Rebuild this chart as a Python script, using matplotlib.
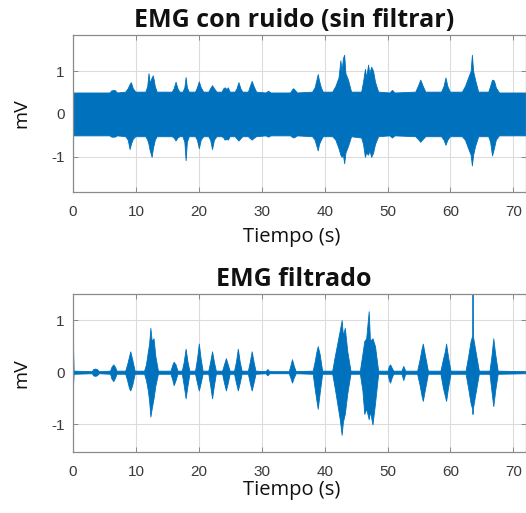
import numpy as np
import matplotlib
matplotlib.use('Agg')
import matplotlib.pyplot as plt

plt.rcParams['font.family'] = ['Liberation Sans', 'DejaVu Sans']
plt.rcParams['axes.unicode_minus'] = False

# Envolvente de la señal sin filtrar: tiempo (s), máximo y mínimo (mV)
t_ruido = [0, 5.8, 6.1, 6.6, 7.0,
           8.3, 8.7, 9.0, 9.2, 9.5, 9.9,
           11.5, 11.8, 12.0, 12.2, 12.5, 12.7, 13.0, 13.3,
           15.7, 16.0, 16.3, 16.6, 16.9,
           17.4, 17.7, 17.9, 18.1, 18.4,
           19.4, 19.7, 20.0, 20.3, 20.7,
           21.5, 21.8, 22.1, 22.4, 22.8,
           23.6, 23.9, 24.1, 24.4, 24.6, 24.9,
           25.7, 26.0, 26.3, 26.6, 26.9,
           27.8, 28.1, 28.4, 28.7, 29.1,
           30.6, 31.0, 31.4,
           34.5, 34.8, 35.0, 35.3, 35.6,
           38.0, 38.4, 38.7, 38.9, 39.1, 39.4, 39.7,
           41.2, 41.7, 42.2, 42.5, 42.7, 42.9, 43.1, 43.3, 43.7, 44.2,
           45.8, 46.1, 46.4, 46.6, 46.9, 47.1, 47.4, 47.7, 48.0, 48.5,
           50.3, 50.7, 51.1,
           54.4, 54.8, 55.2, 55.6, 56.0,
           58.5, 58.9, 59.2, 59.5, 59.9,
           61.8, 62.3, 62.8, 63.2, 63.4, 63.6, 63.9, 64.4,
           66.0, 66.3, 66.6, 66.9, 67.2, 67.7, 72]
sup_ruido = [0.5, 0.5, 0.55, 0.56, 0.5,
             0.52, 0.6, 0.7, 0.74, 0.6, 0.52,
             0.52, 0.65, 0.95, 0.72, 0.85, 0.9, 0.65, 0.52,
             0.52, 0.6, 0.75, 0.6, 0.52,
             0.52, 0.62, 0.86, 0.62, 0.52,
             0.52, 0.62, 0.76, 0.62, 0.52,
             0.52, 0.6, 0.67, 0.6, 0.52,
             0.52, 0.6, 0.62, 0.58, 0.62, 0.52,
             0.52, 0.6, 0.74, 0.6, 0.52,
             0.52, 0.65, 0.77, 0.65, 0.52,
             0.5, 0.54, 0.5,
             0.5, 0.57, 0.6, 0.55, 0.5,
             0.52, 0.62, 0.8, 0.93, 0.78, 0.62, 0.52,
             0.52, 0.65, 0.85, 1.25, 1.0, 1.3, 1.38, 0.95, 0.8, 0.52,
             0.52, 0.75, 1.05, 0.85, 1.15, 0.95, 1.1, 1.0, 0.75, 0.52,
             0.5, 0.56, 0.5,
             0.52, 0.65, 0.8, 0.65, 0.52,
             0.52, 0.65, 0.85, 0.65, 0.52,
             0.52, 0.65, 0.85, 1.0, 1.38, 1.0, 0.8, 0.52,
             0.52, 0.65, 0.8, 0.78, 0.62, 0.5, 0.5]
inf_ruido = [-0.5, -0.5, -0.53, -0.53, -0.5,
             -0.52, -0.6, -0.82, -0.7, -0.58, -0.52,
             -0.52, -0.6, -0.7, -0.85, -1.0, -0.8, -0.6, -0.52,
             -0.52, -0.55, -0.62, -0.55, -0.52,
             -0.52, -0.65, -1.08, -0.65, -0.52,
             -0.52, -0.6, -0.8, -0.6, -0.52,
             -0.52, -0.6, -0.82, -0.6, -0.52,
             -0.52, -0.55, -0.6, -0.58, -0.6, -0.52,
             -0.52, -0.57, -0.62, -0.57, -0.52,
             -0.52, -0.56, -0.6, -0.56, -0.52,
             -0.5, -0.53, -0.5,
             -0.5, -0.53, -0.55, -0.53, -0.5,
             -0.52, -0.6, -0.75, -0.85, -0.7, -0.6, -0.52,
             -0.52, -0.6, -0.8, -0.95, -1.0, -0.95, -1.15, -0.9, -0.75, -0.52,
             -0.55, -0.7, -1.0, -0.9, -0.95, -0.85, -1.0, -0.9, -0.7, -0.52,
             -0.5, -0.55, -0.5,
             -0.52, -0.58, -0.65, -0.58, -0.52,
             -0.52, -0.6, -0.72, -0.6, -0.52,
             -0.52, -0.6, -0.8, -0.95, -1.2, -0.95, -0.75, -0.52,
             -0.52, -0.65, -0.97, -0.8, -0.6, -0.5, -0.5]

# Envolvente de la señal filtrada
t_filt = [0, 0.1,
          3.0, 3.2, 3.5, 3.8, 4.1,
          5.9, 6.1, 6.4, 6.7, 6.9,
          8.3, 8.6, 8.9, 9.1, 9.4, 9.8,
          11.3, 11.6, 11.9, 12.1, 12.3, 12.5, 12.8, 13.1, 13.5,
          15.5, 15.8, 16.0, 16.3, 16.6,
          17.3, 17.6, 17.9, 18.2, 18.5,
          19.4, 19.7, 20.0, 20.3, 20.6,
          21.5, 21.8, 22.1, 22.4, 22.7,
          23.7, 24.0, 24.3, 24.6, 24.9,
          25.6, 25.9, 26.2, 26.5, 26.8,
          27.8, 28.1, 28.4, 28.7, 29.0,
          30.6, 30.9, 31.2,
          34.3, 34.6, 34.8, 35.1, 35.4,
          38.1, 38.4, 38.7, 38.9, 39.2, 39.6,
          41.2, 41.6, 42.0, 42.4, 42.7, 42.9, 43.2, 43.6, 44.1,
          45.6, 46.0, 46.3, 46.6, 47.0, 47.2, 47.6, 48.0, 48.5,
          50.0, 50.2, 50.4, 50.6, 50.9,
          52.2, 52.5, 52.8,
          54.7, 55.1, 55.4, 55.6, 55.9, 56.4,
          58.4, 58.8, 59.1, 59.3, 59.6, 60.0,
          62.4, 62.8, 63.2, 63.45, 63.5, 63.55, 63.9, 64.5,
          66.2, 66.5, 66.8, 67.1, 67.5, 72]
sup_filt = [0.5, 0.03,
            0.02, 0.06, 0.07, 0.06, 0.02,
            0.03, 0.1, 0.15, 0.1, 0.03,
            0.03, 0.15, 0.3, 0.4, 0.25, 0.03,
            0.03, 0.15, 0.4, 0.55, 0.85, 0.6, 0.65, 0.3, 0.03,
            0.03, 0.15, 0.2, 0.15, 0.03,
            0.03, 0.2, 0.45, 0.2, 0.03,
            0.03, 0.25, 0.55, 0.25, 0.03,
            0.03, 0.2, 0.4, 0.2, 0.03,
            0.03, 0.15, 0.27, 0.15, 0.03,
            0.03, 0.2, 0.45, 0.2, 0.03,
            0.03, 0.2, 0.4, 0.2, 0.03,
            0.02, 0.06, 0.02,
            0.02, 0.15, 0.25, 0.12, 0.02,
            0.03, 0.2, 0.4, 0.5, 0.35, 0.03,
            0.03, 0.3, 0.55, 0.8, 1.0, 0.7, 0.85, 0.4, 0.03,
            0.03, 0.35, 0.6, 0.65, 1.17, 0.6, 0.65, 0.5, 0.03,
            0.03, 0.12, 0.15, 0.1, 0.03,
            0.03, 0.12, 0.03,
            0.03, 0.25, 0.45, 0.55, 0.35, 0.03,
            0.03, 0.25, 0.4, 0.55, 0.3, 0.03,
            0.03, 0.3, 0.6, 0.7, 1.5, 0.7, 0.45, 0.03,
            0.03, 0.3, 0.65, 0.35, 0.03, 0.02]
inf_filt = [-0.25, -0.03,
            -0.02, -0.06, -0.07, -0.06, -0.02,
            -0.03, -0.12, -0.17, -0.1, -0.03,
            -0.03, -0.15, -0.3, -0.35, -0.25, -0.03,
            -0.03, -0.15, -0.35, -0.55, -0.85, -0.7, -0.5, -0.25, -0.03,
            -0.03, -0.15, -0.25, -0.15, -0.03,
            -0.03, -0.25, -0.5, -0.25, -0.03,
            -0.03, -0.2, -0.35, -0.2, -0.03,
            -0.03, -0.25, -0.5, -0.25, -0.03,
            -0.03, -0.2, -0.35, -0.2, -0.03,
            -0.03, -0.2, -0.35, -0.2, -0.03,
            -0.03, -0.2, -0.35, -0.2, -0.03,
            -0.02, -0.06, -0.02,
            -0.02, -0.12, -0.2, -0.1, -0.02,
            -0.03, -0.3, -0.55, -0.7, -0.4, -0.03,
            -0.03, -0.3, -0.6, -0.9, -1.2, -0.95, -0.8, -0.4, -0.03,
            -0.03, -0.35, -0.8, -0.7, -0.9, -0.75, -1.0, -0.6, -0.03,
            -0.03, -0.15, -0.2, -0.12, -0.03,
            -0.03, -0.15, -0.03,
            -0.03, -0.25, -0.45, -0.55, -0.35, -0.03,
            -0.03, -0.3, -0.45, -0.55, -0.3, -0.03,
            -0.03, -0.3, -0.6, -0.7, -0.8, -0.7, -0.45, -0.03,
            -0.03, -0.35, -0.65, -0.35, -0.03, -0.02]

azul = '#0072BD'
xticks = [0, 10, 20, 30, 40, 50, 60, 70]
yticks = [-1, 0, 1]
titulos = ['EMG con ruido (sin filtrar)', 'EMG filtrado']

fig = plt.figure(figsize=(5.26, 5.13), dpi=100)

ax1 = fig.add_axes([73/526, 1 - 192/513, 453/526, 157/513])
ax2 = fig.add_axes([73/526, 1 - 452/513, 453/526, 158/513])

ax1.fill_between(t_ruido, inf_ruido, sup_ruido, color=azul, linewidth=0.6)
ax2.fill_between(t_filt, inf_filt, sup_filt, color=azul, linewidth=0.6)
ax2.plot(t_filt, np.zeros(len(t_filt)), color=azul, linewidth=0.9)

ax1.set_ylim(-1.82, 1.84)
ax2.set_ylim(-1.53, 1.5)

for ax, titulo, lpad in zip([ax1, ax2], titulos, [6, 1]):
    ax.set_xlim(0, 72)
    ax.set_xticks(xticks)
    ax.set_yticks(yticks)
    ax.grid(True, color='#dcdcdc', linewidth=0.8)
    ax.set_axisbelow(True)
    ax.tick_params(direction='in', length=3.5, width=0.7, colors='#8a8a8a',
                   labelcolor='#3a3a3a', labelsize=11, top=True, right=True)
    ax.tick_params(axis='x', pad=9)
    ax.tick_params(axis='y', pad=6)
    for s in ax.spines.values():
        s.set_color('#8a8a8a')
        s.set_linewidth(0.9)
    ax.set_title(titulo, fontsize=18, fontweight='bold', family='Open Sans',
                 color='#111111', pad=6, x=0.488)
    ax.set_xlabel('Tiempo (s)', fontsize=14.5, family='Open Sans', color='#111111',
                  labelpad=lpad)
    ax.xaxis.label.set_x(0.483)
    ax.set_ylabel('mV', fontsize=14, family='Open Sans', color='#111111',
                  labelpad=15)

fig.savefig('out.png', dpi=100)
